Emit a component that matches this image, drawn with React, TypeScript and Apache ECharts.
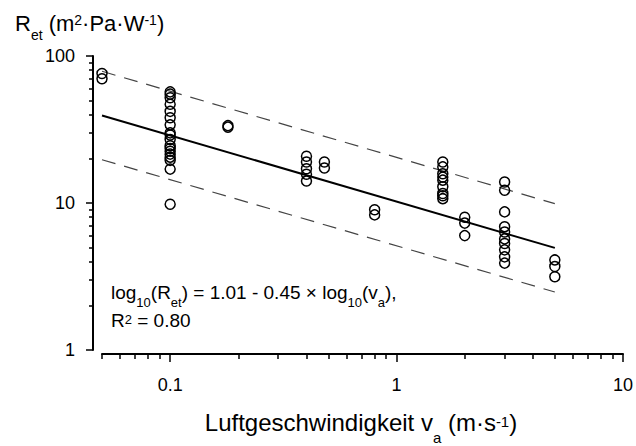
import React, { useEffect, useRef } from "react";
import * as echarts from "echarts";

// ---- data ----
const groupSpeeds = [0.05, 0.1, 0.18, 0.4, 0.48, 0.8, 1.6, 2, 3, 5];
const retAt0_05 = [76, 70];
const retAt0_10 = [57, 55, 52, 47, 42, 38, 34, 30, 29, 27, 24.5, 23.5, 22.5, 21.5, 20.5, 19.5, 17, 9.8];
const retAt0_18 = [33.6, 32.8];
const retAt0_40 = [20.8, 19, 17.1, 15.7, 14.1];
const retAt0_48 = [19, 17.3];
const retAt0_80 = [9, 8.3];
const retAt1_6 = [19, 17.6, 15.8, 15, 14.3, 12.9, 11.6, 11.2, 10.7];
const retAt2_0 = [8, 7.3, 6];
const retAt3_0 = [13.9, 12.2, 8.7, 6.9, 6.35, 5.7, 5.3, 4.8, 4.3, 3.9];
const retAt5_0 = [4.1, 3.7, 3.15];
const retGroups = [retAt0_05, retAt0_10, retAt0_18, retAt0_40, retAt0_48, retAt0_80, retAt1_6, retAt2_0, retAt3_0, retAt5_0];

const fitVa = [0.05, 5];
const fitRet = [39.4, 4.95];
const upperRet = [78.7, 9.9];
const lowerRet = [19.7, 2.48];

const xMajorTicks = [0.1, 1, 10];
const xTickLabels = ["0.1", "1", "10"];
const xMinorTicks = [0.05, 0.06, 0.07, 0.08, 0.09, 0.2, 0.3, 0.4, 0.5, 0.6, 0.7, 0.8, 0.9, 2, 3, 4, 5, 6, 7, 8, 9];
const yMajorTicks = [1, 10, 100];
const yTickLabels = ["1", "10", "100"];
const yMinorTicks = [2, 3, 4, 5, 6, 7, 8, 9, 20, 30, 40, 50, 60, 70, 80, 90];

const X_MIN = 0.05;
const X_MAX = 10;
const Y_MIN = 1;
const Y_MAX = 100;

const FONT = "'Liberation Sans', Arial, Helvetica, sans-serif";
const L = (v: number) => Math.log10(v);

export default function App() {
  const ref = useRef<HTMLDivElement>(null);
  useEffect(() => {
    document.body.style.margin = "0";
    if (!ref.current) return;
    const chart = echarts.init(ref.current, undefined, { renderer: "svg" });

    const points: number[][] = [];
    retGroups.forEach((g, i) => g.forEach((r) => points.push([L(groupSpeeds[i]), L(r)])));

    const xLabelFmt = (v: number) => {
      const idx = xMajorTicks.findIndex((t) => Math.abs(L(t) - v) < 1e-6);
      return idx >= 0 ? xTickLabels[idx] : "";
    };
    const yLabelFmt = (v: number) => {
      const idx = yMajorTicks.findIndex((t) => Math.abs(L(t) - v) < 1e-6);
      return idx >= 0 ? yTickLabels[idx] : "";
    };

    const axisLine = { show: true, onZero: false, lineStyle: { color: "#000", width: 2 } };
    const labelStyle = { color: "#000", fontSize: 18, fontFamily: FONT };

    const xBase = { type: "value", min: L(X_MIN), max: L(X_MAX), offset: 4, splitLine: { show: false }, position: "bottom" };
    const yBase = { type: "value", min: L(Y_MIN), max: L(Y_MAX), offset: 9, splitLine: { show: false }, position: "left" };

    const main = (fs: number, lh: number) => ({ fontSize: fs, lineHeight: lh, fontFamily: FONT, fill: "#000", color: "#000", verticalAlign: "top" });
    const small = (fs: number, lh: number, padTop: number) => ({ fontSize: fs, lineHeight: lh, fontFamily: FONT, fill: "#000", color: "#000", verticalAlign: "top", padding: [padTop, 0, 0, 0] });

    chart.setOption({
      animation: false,
      grid: { left: 102, right: 12, top: 56, bottom: 96 },
      xAxis: [
        {
          ...xBase,
          axisLine,
          axisTick: { show: true, length: 8, customValues: xMajorTicks.map(L), lineStyle: { color: "#000", width: 1.5 } },
          axisLabel: { ...labelStyle, show: true, customValues: xMajorTicks.map(L), formatter: xLabelFmt, margin: 22 },
        },
        {
          ...xBase,
          axisLine: { show: false, onZero: false },
          axisTick: { show: true, length: 5, customValues: xMinorTicks.map(L), lineStyle: { color: "#000", width: 1.5 } },
          axisLabel: { show: false },
        },
      ],
      yAxis: [
        {
          ...yBase,
          axisLine,
          axisTick: { show: true, length: 7, customValues: yMajorTicks.map(L), lineStyle: { color: "#000", width: 1.5 } },
          axisLabel: { ...labelStyle, show: true, customValues: yMajorTicks.map(L), formatter: yLabelFmt, margin: 18 },
        },
        {
          ...yBase,
          axisLine: { show: false, onZero: false },
          axisTick: { show: true, length: 4, customValues: yMinorTicks.map(L), lineStyle: { color: "#000", width: 1.5 } },
          axisLabel: { show: false },
        },
      ],
      series: [
        {
          type: "line",
          data: fitVa.map((v, i) => [L(v), L(upperRet[i])]),
          showSymbol: false,
          lineStyle: { color: "#444", width: 1.2, type: [14, 9] },
          z: 1,
        },
        {
          type: "line",
          data: fitVa.map((v, i) => [L(v), L(lowerRet[i])]),
          showSymbol: false,
          lineStyle: { color: "#444", width: 1.2, type: [14, 9] },
          z: 1,
        },
        {
          type: "line",
          data: fitVa.map((v, i) => [L(v), L(fitRet[i])]),
          showSymbol: false,
          lineStyle: { color: "#000", width: 2 },
          z: 2,
        },
        {
          type: "scatter",
          data: points,
          symbol: "circle",
          symbolSize: 10,
          itemStyle: { color: "rgba(255,255,255,0)", borderColor: "#000", borderWidth: 1.5, opacity: 1 },
          z: 3,
        },
      ],
      graphic: [
        {
          type: "text",
          x: 15,
          y: 12,
          style: {
            text: "{m|R}{sub|et}{m| (m}{sup|2}{m|·Pa·W}{sup|-1}{m|)}",
            align: "left",
            verticalAlign: "top",
            rich: { m: main(22, 30), sub: small(14, 14, 16), sup: small(14, 14, 1) },
          },
        },
        {
          type: "text",
          x: 111,
          y: 283,
          style: {
            text: "{m|log}{sub|10}{m|(R}{sub|et}{m|) = 1.01 - 0.45 × log}{sub|10}{m|(v}{sub|a}{m|),}",
            align: "left",
            verticalAlign: "top",
            rich: { m: main(19, 24), sub: small(13, 8, 13) },
          },
        },
        {
          type: "text",
          x: 111,
          y: 311,
          style: {
            text: "{m|R}{sup|2}{m| = 0.80}",
            align: "left",
            verticalAlign: "top",
            rich: { m: main(19, 24), sup: small(13, 8, 2) },
          },
        },
        {
          type: "text",
          x: 361,
          y: 410,
          style: {
            text: "{m|Luftgeschwindigkeit v}{sub|a}{m| (m·s}{sup|-1}{m|)}",
            align: "center",
            verticalAlign: "top",
            rich: { m: main(24, 30), sub: small(15, 10, 20), sup: small(15, 10, 4) },
          },
        },
      ],
    });
    return () => chart.dispose();
  }, []);
  return <div ref={ref} style={{ width: 636, height: 446 }} />;
}
